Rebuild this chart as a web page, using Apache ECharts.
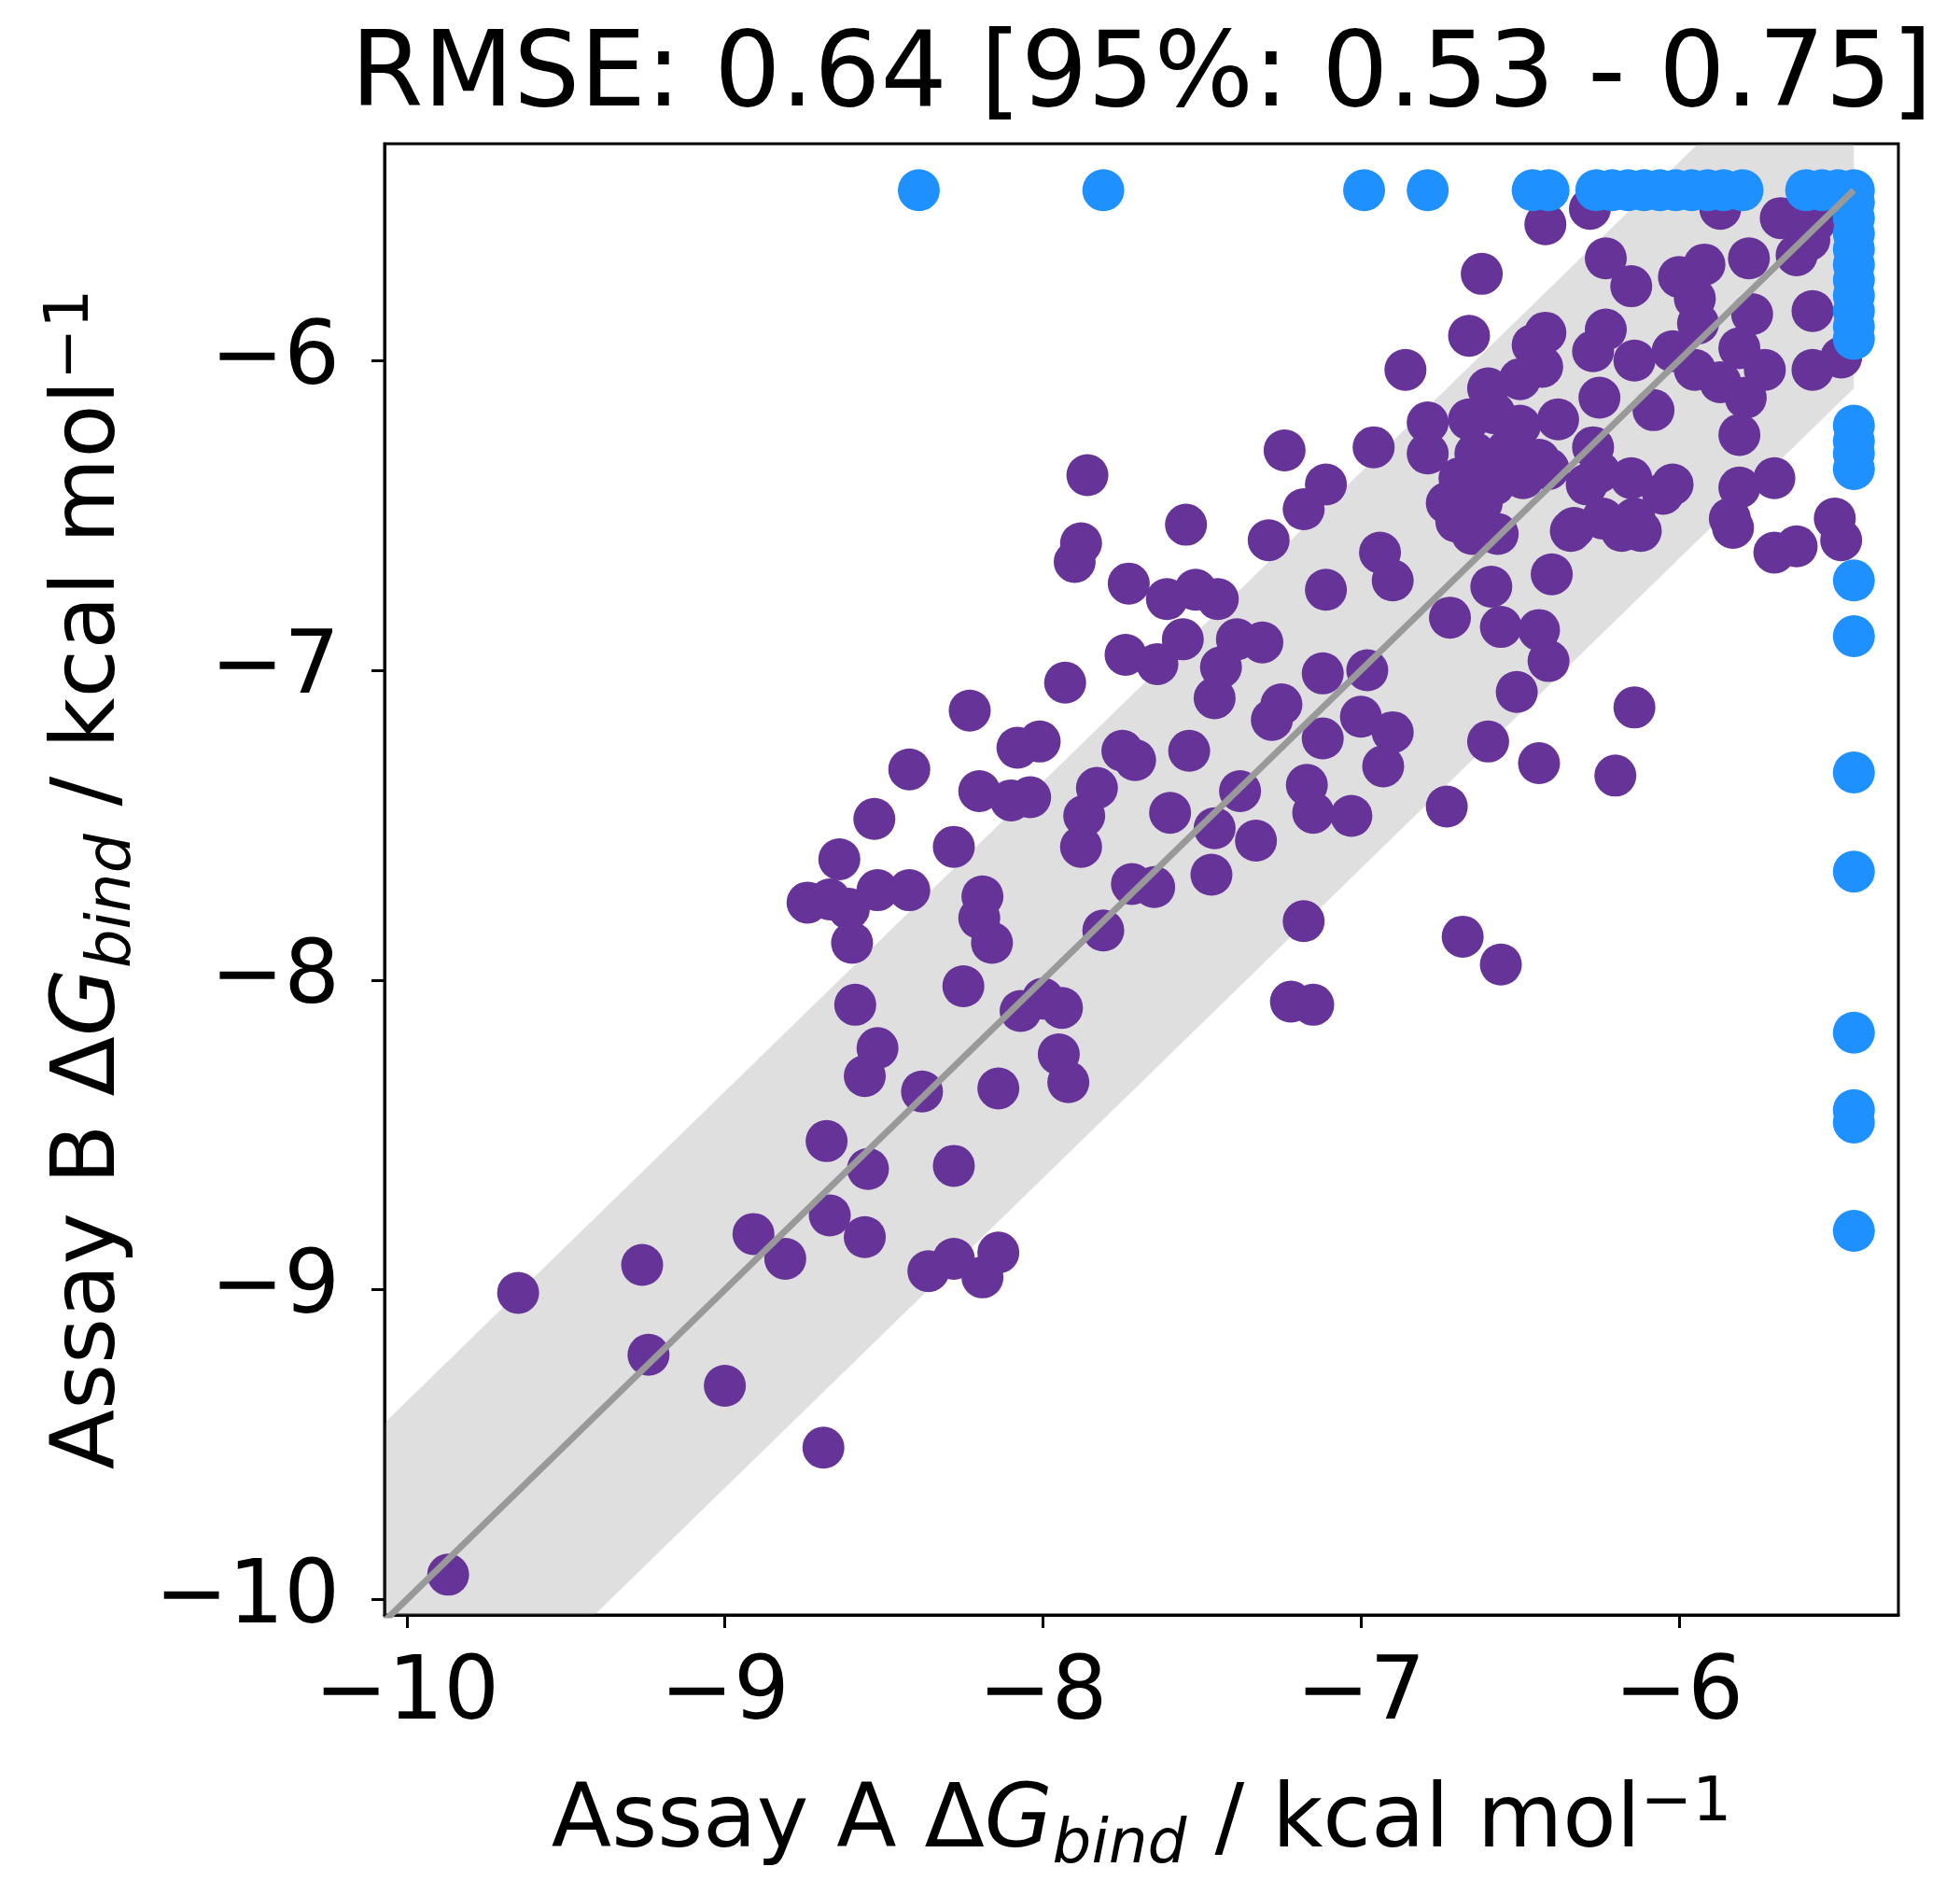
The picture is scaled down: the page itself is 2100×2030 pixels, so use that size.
<!DOCTYPE html>
<html><head><meta charset="utf-8">
<script src="https://cdn.jsdelivr.net/npm/echarts@6/dist/echarts.min.js"></script>
<style>html,body{margin:0;padding:0;background:#fff}#c{width:2100px;height:2030px}</style>
</head><body><div id="c"></div>
<script>
const titleText = 'RMSE: 0.64 [95%: 0.53 - 0.75]';
const xTicks = [-10, -9, -8, -7, -6];
const yTicks = [-10, -9, -8, -7, -6];
const xRange = [-10.07, -5.31];
const yRange = [-10.05, -5.30];
const rmse = 0.64;
const diagStart = -10.3;
const capValue = -5.45;

const purpleX = [-9.87,-9.65,-9.26,-9.24,-9.00,-8.69,-8.91,-8.81,-8.67,-8.56,-8.68,-8.55,-8.28,-8.36,-8.28,-8.19,-8.14,-8.38,-8.14,-8.59,
-8.52,-8.56,-8.25,-8.07,-8.00,-7.94,-7.95,-7.92,-8.74,-8.67,-8.61,-8.60,-8.52,-8.42,-8.19,-8.20,-8.16,-8.64,-8.53,-8.28,
-8.42,-8.23,-8.20,-8.10,-8.04,-8.08,-8.01,-7.88,-7.87,-7.83,-7.75,-7.71,-7.54,-7.60,-7.38,-7.46,-7.33,-7.47,-7.17,-7.15,
-7.12,-7.28,-7.72,-7.65,-7.81,-7.18,-7.22,-7.15,-7.86,-7.88,-7.90,-7.55,-7.24,-7.11,-7.18,-7.29,-7.73,-7.61,-7.52,-7.45,
-7.74,-7.64,-7.56,-7.39,-7.31,-7.44,-7.46,-7.93,-7.12,-7.11,-7.25,-6.98,-7.00,-6.90,-6.93,-7.03,-6.73,-6.68,-6.56,-6.60,
-6.44,-6.20,-6.14,-6.94,-6.90,-6.72,-6.59,-6.40,-6.56,-6.44,-6.41,-6.51,-5.83,-5.70,-5.63,-5.49,-5.51,-5.84,-6.42,-6.62,
-6.23,-6.15,-6.66,-6.86,-6.42,-6.46,-6.43,-6.50,-6.60,-6.23,-6.27,-6.14,-6.25,-6.38,-6.79,-6.79,-6.96,-6.66,-6.58,-6.50,
-6.64,-6.54,-6.44,-6.69,-6.58,-6.49,-6.73,-6.62,-6.41,-6.70,-6.65,-6.57,-6.24,-6.33,-6.14,-6.05,-6.29,-6.15,-6.02,-6.18,
-6.12,-6.34,-5.68,-5.63,-6.00,-5.92,-5.78,-5.94,-5.77,-5.58,-6.02,-5.81,-5.95,-5.87,-5.73,-5.79,-5.58,-5.49,-6.08,-5.81,
-5.81,-5.70,-6.28,-5.87,-5.57,-5.59,-6.27,-6.25,-5.95];
const purpleY = [-9.92,-9.01,-8.92,-9.21,-9.31,-9.51,-8.82,-8.90,-8.76,-8.83,-8.52,-8.61,-8.60,-8.94,-8.90,-8.96,-8.88,-8.36,-8.35,-8.08,
-8.22,-8.31,-8.02,-8.10,-8.06,-8.09,-8.24,-8.33,-7.75,-7.74,-7.77,-7.88,-7.71,-7.71,-7.73,-7.80,-7.88,-7.61,-7.48,-7.57,
-7.32,-7.13,-7.39,-7.42,-7.41,-7.25,-7.23,-7.57,-7.47,-7.38,-7.26,-7.29,-7.26,-7.46,-7.39,-7.51,-7.55,-7.66,-7.37,-7.46,
-7.22,-7.16,-7.69,-7.70,-7.84,-7.81,-8.07,-8.08,-6.37,-6.59,-6.65,-6.53,-6.29,-6.40,-6.48,-6.58,-6.72,-6.77,-6.74,-6.77,
-6.95,-6.98,-6.90,-6.90,-6.91,-6.99,-7.09,-7.04,-7.01,-6.74,-7.11,-7.00,-7.15,-7.20,-7.31,-7.47,-7.44,-7.86,-7.95,-7.23,
-7.30,-7.34,-7.12,-6.62,-6.71,-6.83,-6.73,-6.69,-6.86,-6.87,-6.97,-7.07,-6.54,-6.62,-6.60,-6.58,-6.51,-6.51,-5.56,-5.72,
-5.67,-5.76,-5.92,-6.03,-5.91,-5.95,-6.02,-6.06,-6.09,-5.90,-5.97,-6.00,-6.12,-6.19,-6.20,-6.30,-6.28,-6.19,-6.17,-6.21,
-6.30,-6.29,-6.32,-6.38,-6.40,-6.38,-6.46,-6.46,-6.35,-6.52,-6.56,-6.56,-6.51,-6.54,-6.51,-6.43,-6.40,-6.38,-6.40,-6.55,
-6.55,-6.55,-5.54,-5.66,-5.73,-5.69,-5.67,-5.88,-5.85,-5.84,-5.97,-5.96,-6.03,-6.07,-6.03,-6.12,-6.03,-5.99,-6.16,-6.24,
-6.41,-6.38,-5.51,-5.51,-5.55,-5.61,-6.28,-6.36,-5.80];

const blueTopX = [-8.39,-7.81,-6.99,-6.79,-6.46,-6.41,-6.26,-6.21,-6.16,-6.11,-6.06,-6.01,-5.96,-5.91,-5.86,-5.80,-5.60,-5.55,-5.50,-5.45];
const blueRightY = [-5.49,-5.54,-5.59,-5.64,-5.69,-5.74,-5.79,-5.84,-5.89,-5.93,-6.21,-6.26,-6.30,-6.35,-6.71,-6.89,-7.33,-7.65,-8.17,-8.42,-8.46,-8.81];

const purpleData = purpleX.map((x, i) => [x, purpleY[i]]);
const blueData = blueTopX.map(x => [x, capValue]).concat(blueRightY.map(y => [capValue, y]));
const bandData = [[diagStart, diagStart - rmse, diagStart + rmse], [capValue, capValue - rmse, capValue + rmse]];
const diagData = [[diagStart, diagStart], [capValue, capValue]];

const FONT = 'DejaVu Sans';
const minus = v => (v < 0 ? '\u2212' + Math.abs(v) : String(v));
const nameRich = {
  a: { fontSize: 94, fontFamily: FONT, color: '#000', verticalAlign: 'top', padding: [20, 0, 0, 0] },
  g: { fontSize: 94, fontFamily: FONT, fontStyle: 'italic', color: '#000', verticalAlign: 'top', padding: [20, 0, 0, 0] },
  s: { fontSize: 66, fontFamily: FONT, fontStyle: 'italic', color: '#000', verticalAlign: 'top', padding: [58, 0, 0, 0] },
  p: { fontSize: 66, fontFamily: FONT, color: '#000', verticalAlign: 'top', padding: [13, 0, 0, 0] }
};

const chart = echarts.init(document.getElementById('c'), null, { renderer: 'canvas' });
chart.setOption({
  animation: false,
  backgroundColor: '#fff',
  graphic: [{
    type: 'text', x: 1223, y: 28, z: 10,
    style: { text: titleText, font: '112px "DejaVu Sans"', fill: '#000', align: 'center', verticalAlign: 'top' }
  }],
  grid: { left: 412, top: 154, width: 1622, height: 1576, show: true, borderColor: '#000', borderWidth: 3, backgroundColor: 'transparent' },
  xAxis: {
    type: 'value', min: xRange[0], max: xRange[1],
    name: '{a|Assay A Δ}{g|G}{s|bind}{a| / kcal mol}{p|\u22121}',
    nameLocation: 'middle', nameGap: 157,
    nameTextStyle: { rich: nameRich },
    axisLine: { show: true, onZero: false, lineStyle: { color: '#000', width: 3 } },
    axisTick: { show: true, length: 14, lineStyle: { color: '#000', width: 3 }, customValues: xTicks },
    axisLabel: { customValues: xTicks, formatter: minus, fontSize: 94, fontFamily: FONT, color: '#000', margin: 40 },
    splitLine: { show: false }
  },
  yAxis: {
    type: 'value', min: yRange[0], max: yRange[1],
    name: '{a|Assay B Δ}{g|G}{s|bind}{a| / kcal mol}{p|\u22121}',
    nameLocation: 'middle', nameGap: 257, nameRotate: 90,
    nameTextStyle: { rich: nameRich },
    axisLine: { show: true, onZero: false, lineStyle: { color: '#000', width: 3 } },
    axisTick: { show: true, length: 14, lineStyle: { color: '#000', width: 3 }, customValues: yTicks },
    axisLabel: { customValues: yTicks, formatter: minus, fontSize: 94, fontFamily: FONT, color: '#000', margin: 48 },
    splitLine: { show: false }
  },
  series: [
    {
      type: 'custom', z: 1, clip: true, silent: true,
      data: bandData,
      renderItem: function (params, api) {
        if (params.dataIndex !== 0) return null;
        const p0 = bandData[0], p1 = bandData[1];
        const pts = [api.coord([p0[0], p0[2]]), api.coord([p1[0], p1[2]]), api.coord([p1[0], p1[1]]), api.coord([p0[0], p0[1]])];
        const cs = params.coordSys;
        return {
          type: 'polygon', shape: { points: pts },
          style: { fill: 'rgba(128,128,128,0.25)' },
          clipPath: { type: 'rect', shape: { x: cs.x, y: cs.y, width: cs.width, height: cs.height } }
        };
      }
    },
    {
      type: 'scatter', z: 2, data: purpleData, symbol: 'circle', symbolSize: 45,
      itemStyle: { color: '#663399', opacity: 1 }, silent: true
    },
    {
      type: 'scatter', z: 3, data: blueData, symbol: 'circle', symbolSize: 45,
      itemStyle: { color: '#1e90ff', opacity: 1 }, silent: true
    },
    {
      type: 'line', z: 4, data: diagData, showSymbol: false, clip: true, silent: true,
      lineStyle: { color: '#999999', width: 7 }
    }
  ]
});
</script></body></html>
